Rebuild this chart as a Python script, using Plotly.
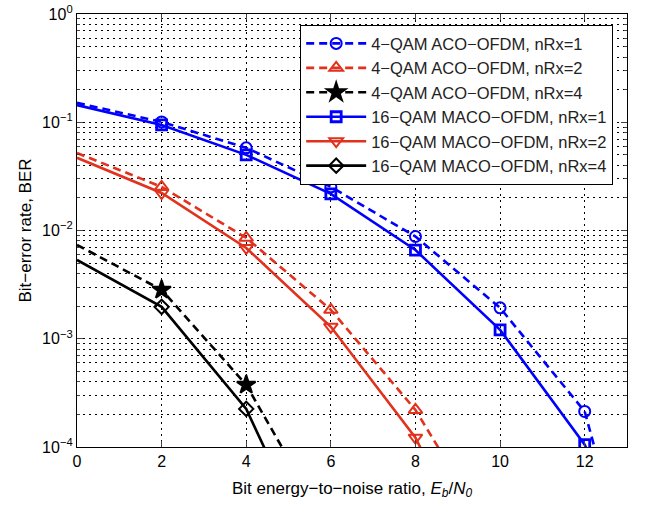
import plotly.graph_objects as go

# ---- data ----
x_b1 = [0, 2, 4, 6, 8, 10, 12, 13]
aco_nrx1 = [0.151, 0.1007, 0.058, 0.0253, 0.0088, 0.00193, 2.13e-4, 8e-6]
maco_nrx1 = [0.144, 0.0944, 0.050, 0.0218, 0.0066, 0.00121, 1.05e-4, 1.5e-5]

x_r = [0, 2, 4, 6, 8, 9]
aco_nrx2 = [0.052, 0.0253, 0.00855, 0.00185, 2.2e-4, 5.0e-5]
maco_nrx2 = [0.047, 0.0222, 0.0069, 0.00129, 1.22e-4, 2.0e-5]

x_k = [0, 2, 4, 5]
aco_nrx4 = [0.00736, 0.00283, 3.75e-4, 7.8e-5]
maco_nrx4 = [0.00535, 0.00197, 2.25e-4, 3.26e-5]

marker_x = [2, 4, 6, 8, 10, 12]

names = ["4−QAM ACO−OFDM, nRx=1", "4−QAM ACO−OFDM, nRx=2", "4−QAM ACO−OFDM, nRx=4",
         "16−QAM MACO−OFDM, nRx=1", "16−QAM MACO−OFDM, nRx=2", "16−QAM MACO−OFDM, nRx=4"]

x_ticks = [0, 2, 4, 6, 8, 10, 12]
y_ticks = [1e-4, 1e-3, 1e-2, 1e-1, 1]
y_ticktext = ["10<sup>−4</sup>", "10<sup>−3</sup>", "10<sup>−2</sup>", "10<sup>−1</sup>", "10<sup>0</sup>"]

BLUE = "#0000ff"
RED = "#e2311d"
BLACK = "#000000"

series = [
    (x_b1, aco_nrx1, names[0], BLUE, "dash", "circle-open", 11),
    (x_r, aco_nrx2, names[1], RED, "dash", "triangle-up-open", 12),
    (x_k, aco_nrx4, names[2], BLACK, "dash", "star", 14),
    (x_b1, maco_nrx1, names[3], BLUE, "solid", "square-open", 10),
    (x_r, maco_nrx2, names[4], RED, "solid", "triangle-down-open", 12),
    (x_k, maco_nrx4, names[5], BLACK, "solid", "diamond-open", 11),
]

fig = go.Figure()
for xs, ys, nm, col, dash, sym, ms in series:
    sel = [i for i, xv in enumerate(xs) if xv in marker_x]
    fig.add_trace(go.Scatter(
        x=xs, y=ys, name=nm, mode="lines+markers",
        line=dict(color=col, width=2.6, dash="8px,5px" if dash == "dash" else "solid"),
        marker=dict(symbol=sym, size=ms, color=col,
                    line=dict(color=col, width=2.8 if "square" in sym else 2)),
        selectedpoints=sel,
        selected=dict(marker=dict(opacity=1)),
        unselected=dict(marker=dict(opacity=0)),
    ))

minor_vals = [m * 10.0 ** e for e in range(-4, 0) for m in range(2, 10)]

fig.update_layout(
    width=648, height=510,
    margin=dict(l=77, r=21, t=14, b=63),
    paper_bgcolor="white", plot_bgcolor="white",
    font=dict(family="Liberation Sans, Arial, sans-serif", size=16, color="black"),
    showlegend=True,
    legend=dict(
        x=0.9745, y=0.9746, xanchor="right", yanchor="top",
        bgcolor="white", bordercolor="black", borderwidth=1.2,
        font=dict(size=16.5, color="#222222"),
        itemwidth=60, tracegroupgap=0,
    ),
    xaxis=dict(
        range=[0, 13], tickvals=x_ticks, ticks="inside", ticklen=6,
        showline=True, linecolor="black", linewidth=1.3, mirror="allticks",
        showgrid=True, gridcolor="black", gridwidth=1, griddash="2px,4px",
        zeroline=False, automargin=False,
        title=dict(text="Bit energy−to−noise ratio, <i>E</i><sub><i>b</i></sub>/<i>N</i><sub><i>0</i></sub>",
                   font=dict(size=17), standoff=12),
    ),
    yaxis=dict(
        type="log", range=[-4, 0], tickvals=y_ticks, ticktext=y_ticktext,
        ticks="inside", ticklen=6, ticklabeloverflow="allow",
        showline=True, linecolor="black", linewidth=1.3, mirror="allticks",
        showgrid=True, gridcolor="black", gridwidth=1, griddash="2px,4px",
        zeroline=False, automargin=False,
        minor=dict(tickvals=minor_vals, ticks="inside", ticklen=3,
                   showgrid=True, gridcolor="black", gridwidth=1, griddash="2px,4px"),
        title=dict(text="Bit−error rate, BER", font=dict(size=17), standoff=6),
    ),
)

fig.write_html("out.html", config={"displayModeBar": False},
               post_script="document.body.style.margin='0';")
